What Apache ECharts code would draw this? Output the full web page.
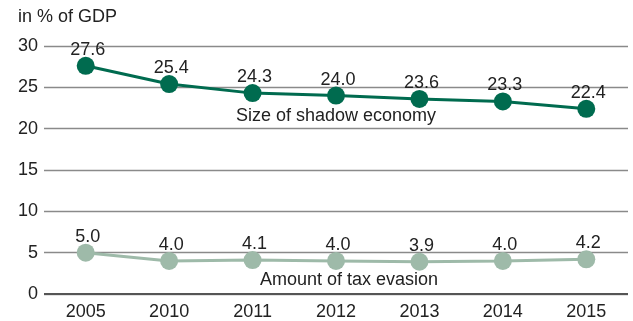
<!DOCTYPE html>
<html><head><meta charset="utf-8">
<script src="https://cdn.jsdelivr.net/npm/echarts@6/dist/echarts.min.js"></script>
<style>html,body{margin:0;padding:0;background:#fff}#c{width:633px;height:321px}</style>
</head><body><div id="c"></div>
<script>
const years = ['2005','2010','2011','2012','2013','2014','2015'];
const shadowEconomy = [27.6, 25.4, 24.3, 24.0, 23.6, 23.3, 22.4];
const taxEvasion = [5.0, 4.0, 4.1, 4.0, 3.9, 4.0, 4.2];
const yTicks = [0, 5, 10, 15, 20, 25, 30];
const unitLabel = 'in % of GDP';
const seriesNames = ['Size of shadow economy', 'Amount of tax evasion'];

const font = 'Liberation Sans, Arial, Helvetica, sans-serif';
const fs = 18;
const chart = echarts.init(document.getElementById('c'));
const lbl = {show: true, position: 'top', distance: -2, offset: [2, 0], fontSize: fs, color: '#222', fontFamily: font,
  formatter: p => p.value.toFixed(1)};
chart.setOption({
  animation: false,
  grid: {left: 44, right: 5, top: 46, bottom: 25},
  title: {text: unitLabel, left: 13, top: 3, textStyle: {fontSize: fs, fontWeight: 'normal', color: '#222', fontFamily: font}},
  xAxis: {type: 'category', data: years, boundaryGap: true,
    axisLine: {show: false}, axisTick: {show: false},
    axisLabel: {fontSize: fs, color: '#222', fontFamily: font, margin: 9}},
  yAxis: {type: 'value', min: 0, max: 30, interval: 5,
    axisLine: {show: false}, axisTick: {show: false},
    axisLabel: {fontSize: fs, color: '#222', fontFamily: font, margin: 6,
      formatter: v => yTicks.includes(v) ? String(v) : ''},
    splitLine: {lineStyle: {color: '#8a8a8a', width: 1.3}}},
  series: [
    {name: seriesNames[0], type: 'line', data: shadowEconomy, symbol: 'circle', symbolSize: 18,
     itemStyle: {color: '#006b4f'}, lineStyle: {color: '#006b4f', width: 3}, label: lbl, z: 3},
    {name: seriesNames[1], type: 'line', data: taxEvasion, symbol: 'circle', symbolSize: 18,
     itemStyle: {color: '#9ebaa9'}, lineStyle: {color: '#9ebaa9', width: 3}, label: lbl, z: 3},
    {type: 'line', data: [], markLine: {silent: true, symbol: 'none', label: {show: false},
      lineStyle: {color: '#555', width: 2, type: 'solid'}, data: [{yAxis: 0}]}, z: 2}
  ],
  graphic: [
    {type: 'text', left: 236, top: 107, style: {text: seriesNames[0], font: fs + 'px ' + font, fill: '#222'}},
    {type: 'text', left: 260, top: 271, style: {text: seriesNames[1], font: fs + 'px ' + font, fill: '#222'}}
  ]
});
</script></body></html>
